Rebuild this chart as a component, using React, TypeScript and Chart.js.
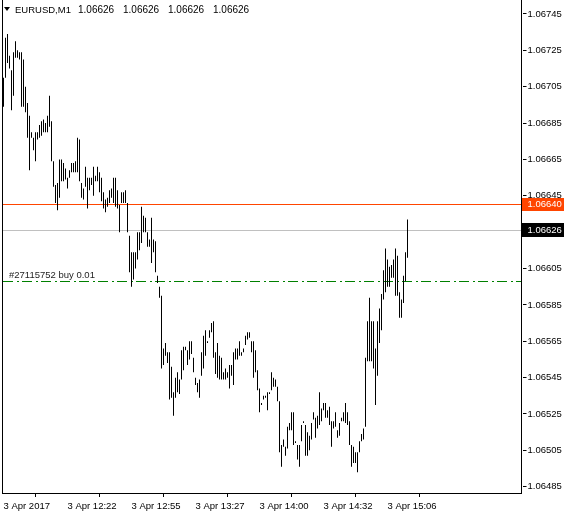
import React, { useEffect, useRef } from 'react';
import { Chart, registerables } from 'chart.js';

Chart.register(...registerables);

// ---- data (EURUSD M1) ----
const HIGHS: number[] = [
  1.06710, 1.06732, 1.06734, 1.06722, 1.06714, 1.06724, 1.06730, 1.06725, 1.06724, 1.06724,
  1.06720, 1.06705, 1.06696, 1.06689, 1.06680, 1.06677, 1.06680, 1.06680, 1.06684, 1.06686,
  1.06687, 1.06685, 1.06689, 1.06700, 1.06686, 1.06664, 1.06651, 1.06652, 1.06665, 1.06665,
  1.06663, 1.06660, 1.06655, 1.06659, 1.06663, 1.06663, 1.06664, 1.06677, 1.06676, 1.06652,
  1.06649, 1.06661, 1.06655, 1.06655, 1.06655, 1.06661, 1.06656, 1.06661, 1.06658, 1.06655,
  1.06647, 1.06643, 1.06644, 1.06648, 1.06649, 1.06655, 1.06655, 1.06648, 1.06640, 1.06647,
  1.06647, 1.06648, 1.06641, 1.06623, 1.06614, 1.06614, 1.06614, 1.06625, 1.06625, 1.06639,
  1.06634, 1.06633, 1.06625, 1.06621, 1.06633, 1.06621, 1.06620, 1.06601, 1.06595, 1.06590,
  1.06561, 1.06564, 1.06559, 1.06559, 1.06551, 1.06537, 1.06545, 1.06548, 1.06544, 1.06560,
  1.06562, 1.06562, 1.06560, 1.06565, 1.06565, 1.06556, 1.06545, 1.06542, 1.06544, 1.06559,
  1.06568, 1.06571, 1.06565, 1.06571, 1.06575, 1.06576, 1.06559, 1.06564, 1.06557, 1.06556,
  1.06548, 1.06550, 1.06548, 1.06552, 1.06552, 1.06559, 1.06561, 1.06561, 1.06565, 1.06559,
  1.06561, 1.06568, 1.06570, 1.06570, 1.06565, 1.06565, 1.06560, 1.06549, 1.06539, 1.06531,
  1.06535, 1.06535, 1.06537, 1.06537, 1.06548, 1.06545, 1.06544, 1.06540, 1.06532, 1.06508,
  1.06511, 1.06507, 1.06518, 1.06520, 1.06526, 1.06526, 1.06510, 1.06508, 1.06508, 1.06519,
  1.06521, 1.06519, 1.06515, 1.06513, 1.06520, 1.06526, 1.06523, 1.06524, 1.06537, 1.06528,
  1.06531, 1.06531, 1.06527, 1.06529, 1.06521, 1.06521, 1.06526, 1.06516, 1.06520, 1.06523,
  1.06526, 1.06531, 1.06526, 1.06521, 1.06508, 1.06507, 1.06504, 1.06504, 1.06510, 1.06514,
  1.06517, 1.06556, 1.06576, 1.06589, 1.06576, 1.06576, 1.06561, 1.06576, 1.06583, 1.06591,
  1.06604, 1.06616, 1.06610, 1.06606, 1.06607, 1.06610, 1.06616, 1.06612, 1.06592, 1.06588,
  1.06601, 1.06614, 1.06632,
];

const LOWS: number[] = [
  1.06694, 1.06710, 1.06718, 1.06715, 1.06692, 1.06700, 1.06721, 1.06721, 1.06720, 1.06694,
  1.06694, 1.06691, 1.06677, 1.06659, 1.06677, 1.06670, 1.06664, 1.06676, 1.06677, 1.06678,
  1.06680, 1.06680, 1.06680, 1.06683, 1.06664, 1.06650, 1.06641, 1.06637, 1.06644, 1.06653,
  1.06653, 1.06654, 1.06649, 1.06655, 1.06658, 1.06658, 1.06658, 1.06658, 1.06653, 1.06644,
  1.06643, 1.06650, 1.06638, 1.06648, 1.06651, 1.06645, 1.06653, 1.06653, 1.06647, 1.06642,
  1.06638, 1.06636, 1.06639, 1.06641, 1.06644, 1.06641, 1.06639, 1.06638, 1.06625, 1.06641,
  1.06641, 1.06641, 1.06625, 1.06603, 1.06595, 1.06599, 1.06605, 1.06610, 1.06615, 1.06619,
  1.06625, 1.06625, 1.06617, 1.06617, 1.06608, 1.06614, 1.06603, 1.06597, 1.06589, 1.06550,
  1.06552, 1.06557, 1.06553, 1.06533, 1.06534, 1.06524, 1.06534, 1.06537, 1.06536, 1.06544,
  1.06549, 1.06560, 1.06552, 1.06555, 1.06558, 1.06548, 1.06541, 1.06537, 1.06534, 1.06546,
  1.06550, 1.06557, 1.06564, 1.06567, 1.06570, 1.06556, 1.06547, 1.06545, 1.06544, 1.06544,
  1.06544, 1.06544, 1.06545, 1.06539, 1.06546, 1.06541, 1.06555, 1.06555, 1.06557, 1.06557,
  1.06559, 1.06563, 1.06566, 1.06567, 1.06559, 1.06545, 1.06548, 1.06538, 1.06526, 1.06530,
  1.06533, 1.06534, 1.06527, 1.06536, 1.06538, 1.06540, 1.06540, 1.06532, 1.06504, 1.06496,
  1.06507, 1.06502, 1.06506, 1.06516, 1.06516, 1.06508, 1.06509, 1.06500, 1.06496, 1.06510,
  1.06520, 1.06502, 1.06502, 1.06505, 1.06511, 1.06522, 1.06512, 1.06517, 1.06519, 1.06521,
  1.06527, 1.06523, 1.06523, 1.06519, 1.06507, 1.06517, 1.06518, 1.06512, 1.06513, 1.06521,
  1.06521, 1.06520, 1.06519, 1.06508, 1.06496, 1.06498, 1.06498, 1.06493, 1.06504, 1.06510,
  1.06511, 1.06518, 1.06554, 1.06554, 1.06554, 1.06550, 1.06530, 1.06546, 1.06564, 1.06571,
  1.06588, 1.06592, 1.06595, 1.06595, 1.06600, 1.06600, 1.06590, 1.06590, 1.06578, 1.06578,
  1.06586, 1.06598, 1.06611,
];

const TOTAL_SLOTS = 260; // visible bar slots across the chart width
const TIME_TICK_INDEX: number[] = [0, 32, 64, 96, 128, 160, 192];
const TIME_TICK_LABELS: string[] = [
  '3 Apr 2017', '3 Apr 12:22', '3 Apr 12:55', '3 Apr 13:27', '3 Apr 14:00', '3 Apr 14:32', '3 Apr 15:06',
];
const PRICE_TICKS: number[] = [
  1.06745, 1.06725, 1.06705, 1.06685, 1.06665, 1.06645, 1.06605, 1.06585, 1.06565, 1.06545,
  1.06525, 1.06505, 1.06485,
];
const Y_MIN = 1.0648155;
const Y_MAX = 1.067527;

const BID_PRICE = 1.06626;
const ASK_PRICE = 1.0664;
const ORDER_PRICE = 1.06598;
const ORDER_LABEL = '#27115752 buy 0.01';
const SYMBOL = 'EURUSD,M1';
const OHLC_TEXT: string[] = ['1.06626', '1.06626', '1.06626', '1.06626'];

const FONT = 'Liberation Sans';
const FONT_SIZE = 9.5;
const ASK_COLOR = 'rgb(255,69,0)';
const ORDER_COLOR = 'rgb(0,128,0)';
const DASH_PATTERN: number[] = [10, 4, 2, 3];

const overlayPlugin = {
  id: 'mt4Overlay',
  beforeDatasetsDraw(chart: any) {
    const { ctx, chartArea: ca, scales } = chart;
    const y = scales.y;
    const left = Math.floor(ca.left);
    const right = Math.floor(ca.right) - 1;
    ctx.save();
    // bid line
    const by = Math.floor(y.getPixelForValue(BID_PRICE));
    ctx.fillStyle = '#c0c0c0';
    ctx.fillRect(left, by, right - left, 1);
    // ask line
    const ay = Math.floor(y.getPixelForValue(ASK_PRICE));
    ctx.fillStyle = ASK_COLOR;
    ctx.fillRect(left, ay, right - left, 1);
    // order line (dash-dot)
    const oy = Math.floor(y.getPixelForValue(ORDER_PRICE));
    ctx.fillStyle = ORDER_COLOR;
    let x = left + 1;
    let k = 0;
    while (x < right) {
      const len = DASH_PATTERN[k % DASH_PATTERN.length];
      if (k % 2 === 0) ctx.fillRect(x, oy, Math.min(len, right - x), 1);
      x += len;
      k++;
    }
    ctx.restore();
  },
  afterDraw(chart: any) {
    const { ctx, chartArea: ca, scales } = chart;
    const y = scales.y;
    const left = Math.floor(ca.left);
    const right = Math.floor(ca.right) - 1;
    const bottom = Math.round(ca.bottom);
    ctx.save();
    // frame
    ctx.fillStyle = '#000';
    ctx.fillRect(left, 0, 1, bottom + 1);
    ctx.fillRect(right, 0, 1, bottom + 1);
    ctx.fillRect(left, bottom, right - left + 1, 1);

    ctx.font = `${FONT_SIZE}px "${FONT}"`;
    ctx.textBaseline = 'middle';
    ctx.textAlign = 'left';

    // price boxes on the axis
    const ay = Math.floor(y.getPixelForValue(ASK_PRICE));
    ctx.fillStyle = ASK_COLOR;
    ctx.fillRect(right + 1, ay - 6, 564 - right - 1, 13);
    ctx.fillStyle = '#fff';
    ctx.fillText(ASK_PRICE.toFixed(5), right + 6.5, ay + 0.5);

    const by = Math.floor(y.getPixelForValue(BID_PRICE));
    ctx.fillStyle = '#000';
    ctx.fillRect(right + 1, by - 7, 564 - right - 1, 14);
    ctx.fillStyle = '#fff';
    ctx.fillText(BID_PRICE.toFixed(5), right + 6.5, by + 0.5);

    // order label
    const oy = Math.floor(y.getPixelForValue(ORDER_PRICE));
    ctx.fillStyle = '#1e1e1e';
    ctx.fillText(ORDER_LABEL, left + 7, oy - 6);

    // title
    ctx.fillStyle = '#000';
    ctx.beginPath();
    ctx.moveTo(4, 7);
    ctx.lineTo(10, 7);
    ctx.lineTo(7, 11);
    ctx.closePath();
    ctx.fill();
    ctx.fillText(SYMBOL, 15, 10.5);
    ctx.font = `10px "${FONT}"`;
    let tx = 78;
    for (const t of OHLC_TEXT) {
      ctx.fillText(t, tx, 10.5);
      tx += 45;
    }
    ctx.restore();
  },
};

export default function App() {
  const ref = useRef<HTMLCanvasElement | null>(null);
  useEffect(() => {
    if (!ref.current) return;
    const labels = Array.from({ length: TOTAL_SLOTS }, (_, i) => {
      const k = TIME_TICK_INDEX.indexOf(i);
      return k >= 0 ? TIME_TICK_LABELS[k] : '';
    });
    const chart = new Chart(ref.current, {
      type: 'bar',
      data: {
        labels,
        datasets: [
          {
            data: HIGHS.map((h, i) => [LOWS[i], h]) as any,
            backgroundColor: '#000',
            borderWidth: 0,
            barThickness: 1,
            minBarLength: 1,
            inflateAmount: 0,
          } as any,
        ],
      },
      options: {
        animation: false,
        responsive: false,
        maintainAspectRatio: false,
        events: [],
        layout: { padding: { left: 2.5, right: 0, top: 0, bottom: 0 } },
        plugins: { legend: { display: false }, tooltip: { enabled: false }, title: { display: false } },
        scales: {
          x: {
            type: 'category',
            offset: true,
            grid: { display: true, drawOnChartArea: false, drawTicks: true, tickLength: 4, tickColor: '#000', color: '#000' },
            border: { display: false },
            ticks: {
              autoSkip: false,
              maxRotation: 0,
              minRotation: 0,
              align: 'start',
              padding: 4,
              color: '#000',
              font: { family: FONT, size: FONT_SIZE },
            },
            afterBuildTicks: (s: any) => {
              s.ticks = TIME_TICK_INDEX.map((v) => ({ value: v }));
            },
            afterFit: (s: any) => {
              s.height = 24;
              s.paddingLeft = 0;
              s.paddingRight = 0;
            },
          } as any,
          y: {
            type: 'linear',
            position: 'right',
            min: Y_MIN,
            max: Y_MAX,
            grid: { display: true, drawOnChartArea: false, drawTicks: true, tickLength: 4, tickColor: '#000', color: '#000' },
            border: { display: false },
            ticks: {
              autoSkip: false,
              padding: 1,
              color: '#000',
              font: { family: FONT, size: FONT_SIZE },
              callback: (v: any) => Number(v).toFixed(5),
            },
            afterBuildTicks: (s: any) => {
              s.ticks = PRICE_TICKS.map((v) => ({ value: v }));
            },
            afterFit: (s: any) => {
              s.width = 41.5;
              s.paddingTop = 0;
              s.paddingBottom = 0;
            },
          } as any,
        },
      },
      plugins: [overlayPlugin],
    });
    return () => chart.destroy();
  }, []);

  return (
    <div style={{ position: 'fixed', left: 0, top: 0, width: 564, height: 517, background: '#fff' }}>
      <canvas ref={ref} width={564} height={517} style={{ display: 'block', width: 564, height: 517 }} />
    </div>
  );
}
